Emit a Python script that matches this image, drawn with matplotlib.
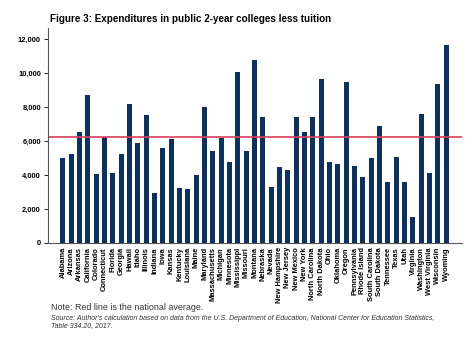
import matplotlib

matplotlib.use("Agg")
import matplotlib.pyplot as plt
from matplotlib.ticker import FuncFormatter

states = [
    "Alabama", "Arizona", "Arkansas", "California", "Colorado", "Connecticut",
    "Florida", "Georgia", "Hawaii", "Idaho", "Illinois", "Indiana", "Iowa",
    "Kansas", "Kentucky", "Louisiana", "Maine", "Maryland", "Massachusetts",
    "Michigan", "Minnesota", "Mississippi", "Missouri", "Montana", "Nebraska",
    "Nevada", "New Hampshire", "New Jersey", "New Mexico", "New York",
    "North Carolina", "North Dakota", "Ohio", "Oklahoma", "Oregon",
    "Pennsylvania", "Rhode Island", "South Carolina", "South Dakota",
    "Tennessee", "Texas", "Utah", "Virginia", "Washington", "West Virginia",
    "Wisconsin", "Wyoming",
]
expenditures = [
    4970, 5220, 6540, 8680, 4050, 6230, 4090, 5200, 8170, 5850, 7540, 2910,
    5560, 6090, 3240, 3180, 4010, 7970, 5400, 6170, 4730, 10040, 5400, 10740,
    7390, 3260, 4440, 4280, 7420, 6500, 7420, 9660, 4730, 4640, 9470, 4500,
    3850, 5010, 6890, 3560, 5030, 3560, 1510, 7580, 4090, 9350, 11650,
]
national_average = 6230

BAR_COLOR = "#0c3160"
LINE_COLOR = "#d8405a"
SANS = ["Liberation Sans", "DejaVu Sans"]
NARROW = ["Liberation Sans Narrow", "Liberation Sans", "DejaVu Sans"]

plt.rcParams["font.family"] = SANS

fig = plt.figure(figsize=(4.74, 3.44), dpi=100)
ax = fig.add_axes([0.101, 0.294, 0.874, 0.625])

x = range(len(states))
ax.bar(x, expenditures, width=0.6, color=BAR_COLOR)
ax.axhline(national_average, color=LINE_COLOR, lw=1.2)

ax.set_xlim(-1.8, len(states) - 1 + 1.9)
ax.set_ylim(0, 12650)
ax.set_yticks(range(0, 12001, 2000))
ax.yaxis.set_major_formatter(FuncFormatter(lambda v, _: f"{int(v):,}"))
ax.set_xticks(list(x))
ax.set_xticklabels(states, rotation=90, fontsize=5.4, fontweight="bold",
                   family=NARROW)
ax.tick_params(axis="x", length=0, pad=3)
ax.tick_params(axis="y", labelsize=5.4, length=3, width=0.6, pad=2)
for lab in ax.get_yticklabels():
    lab.set_fontweight("bold")

for side in ["top", "right"]:
    ax.spines[side].set_visible(False)
ax.spines["left"].set_color("#555555")
ax.spines["left"].set_linewidth(0.8)
ax.spines["bottom"].set_color("#555555")
ax.spines["bottom"].set_linewidth(0.8)

fig.text(0.105, 0.945, "Figure 3: Expenditures in public 2-year colleges less tuition",
         fontsize=7.1, fontweight="bold", va="center", ha="left", family=NARROW)
fig.text(0.108, 0.107, "Note: Red line is the national average.",
         fontsize=6.4, color="#333333", va="center", ha="left")
fig.text(0.108, 0.063,
         "Source: Author's calculation based on data from the U.S. Department of Education, "
         "National Center for Education Statistics,\nTable 334.20, 2017.",
         fontsize=5.0, style="italic", color="#333333", va="center", ha="left",
         linespacing=1.0)

fig.savefig("out.png", dpi=100)
